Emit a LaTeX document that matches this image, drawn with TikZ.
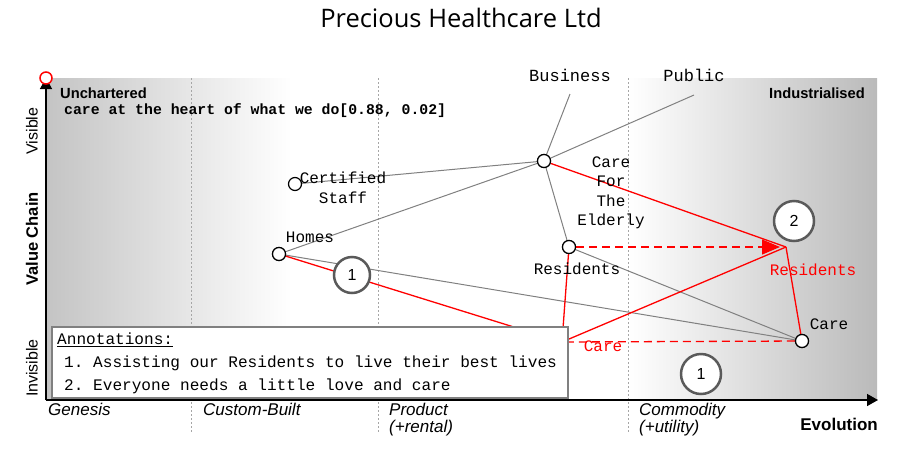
\documentclass[tikz,border=0pt]{standalone}
\usepackage{fontspec}
\setmainfont{Liberation Sans}
\newfontfamily\monof{Liberation Mono}
\newfontfamily\titlef{Open Sans}
\usetikzlibrary{arrows.meta}
\definecolor{linkgray}{HTML}{808080}
\definecolor{bggray}{HTML}{C4C4C4}
\definecolor{annogray}{HTML}{5A5A5A}
\begin{document}
\frenchspacing
\begin{tikzpicture}[x=1pt,y=-1pt,
  comp/.style={circle,draw=black,fill=white,minimum size=13pt,inner sep=0pt,line width=1.2pt},
  lbl/.style={font=\monof\fontsize{16}{19.5}\selectfont,inner sep=0pt,align=center},
  rlbl/.style={lbl,text=red},
  glink/.style={draw=linkgray,line width=1pt},
  rlink/.style={draw=red,line width=1.3pt},
  rdash/.style={draw=red,line width=1.3pt,dash pattern=on 8pt off 5pt},
  anno/.style={circle,draw=annogray,fill=white,line width=2.5pt,minimum size=36pt,inner sep=0pt,font=\fontsize{16}{18}\selectfont},
  stage/.style={font=\itshape\fontsize{17}{17}\selectfont,anchor=north west,inner sep=0pt,align=left},
  axlbl/.style={font=\fontsize{16}{18}\selectfont,rotate=90,inner sep=0pt},
  vdot/.style={draw=gray!70,line width=0.8pt,dash pattern=on 2pt off 2pt}
]
\useasboundingbox (0,0) rectangle (900,472);
% title
\node[font=\titlef\fontsize{25.5}{28}\selectfont] (title) at (461,18) {Precious Healthcare Ltd};
% background
\shade[left color=bggray,right color=white] (46,78) rectangle (292,400);
\shade[left color=white,right color=bggray!95!black] (628,78) rectangle (877,400);
% stage separators
\draw[vdot] (191,78) -- (191,433);
\draw[vdot] (378,78) -- (378,433);
\draw[vdot] (628,78) -- (628,433);
% axes
\coordinate (origin) at (46,400);
\coordinate (ytop) at (46,78);
\coordinate (xend) at (878,400);
\draw[line width=1.5pt,-{Triangle[length=11pt,width=12pt]}] (origin) -- (ytop);
\draw[line width=1.5pt,-{Triangle[length=11pt,width=12pt]}] (origin) -- (xend);
\node[circle,draw=red,fill=white,line width=1.5pt,minimum size=12pt,inner sep=0pt] (anchorpt) at (46,78) {};
% axis labels
\node[font=\bfseries\fontsize{14.7}{16}\selectfont,anchor=west,inner sep=0pt] (unch) at (60,93) {Unchartered};
\node[font=\bfseries\fontsize{14.7}{16}\selectfont,anchor=east,inner sep=0pt] (ind) at (865,93) {Industrialised};
\node[font=\bfseries\fontsize{17}{18}\selectfont,anchor=east,inner sep=0pt] (evo) at (878,424) {Evolution};
\node[axlbl,font=\bfseries\fontsize{16.5}{18}\selectfont] (vc) at (32,239) {Value Chain};
\node[axlbl] (vis) at (32,131) {Visible};
\node[axlbl] (invis) at (32,368) {Invisible};
\node[stage] (gen) at (48,403) {Genesis};
\node[stage] (cust) at (203,403) {Custom-Built};
\node[stage] (prod) at (389,403) {Product\\(+rental)};
\node[stage] (comm) at (639,403) {Commodity\\(+utility)};
% purpose
\node[font=\monof\bfseries\fontsize{14.8}{16}\selectfont,anchor=west,inner sep=0pt] (purpose) at (64,111) {care at the heart of what we do[0.88, 0.02]};
% components
\node[comp] (cfe) at (544,161) {};
\node[comp] (staff) at (295,184) {};
\node[comp] (homes) at (279,254) {};
\node[comp] (res) at (569,247) {};
\node[comp] (care) at (802,341) {};
\coordinate (resev) at (786,247);
\coordinate (careev) at (562,342);
\coordinate (bizend) at (570,94);
\coordinate (pubend) at (694,95);
% gray links
\draw[glink] (cfe) -- (bizend);
\draw[glink] (cfe) -- (pubend);
\draw[glink] (cfe) -- (staff);
\draw[glink] (cfe) -- (homes);
\draw[glink] (cfe) -- (res);
\draw[glink] (homes) -- (care);
\draw[glink] (res) -- (care);
% red links
\draw[rlink] (cfe) -- (resev);
\draw[rlink] (resev) -- (care);
\draw[rlink] (careev) -- (resev);
\draw[rlink] (homes) -- (careev);
\draw[rlink] (res) -- (careev);
\draw[rdash,-{Triangle[length=18pt,width=15pt]},shorten >=6pt] (res) -- (resev);
\draw[rdash] (care) -- (careev);
% redraw components on top
\node[comp] at (cfe) {};
\node[comp] at (homes) {};
\node[comp] at (res) {};
\node[comp] at (care) {};
% labels
\node[lbl,font=\monof\fontsize{17}{19}\selectfont] (biz) at (570,75) {Business};
\node[lbl,font=\monof\fontsize{17}{19}\selectfont] (pub) at (694,75) {Public};
\node[lbl] (cfelbl) at (611,193) {Care\\For\\The\\Elderly};
\node[lbl] (stafflbl) at (343,188) {Certified\\Staff};
\node[lbl] (homeslbl) at (310,237) {Homes};
\node[lbl] (reslbl) at (577,269) {Residents};
\node[lbl] (carelbl) at (829,324) {Care};
\node[rlbl] (resevlbl) at (813,270) {Residents};
\node[rlbl] (careevlbl) at (603,346) {Care};
% annotation markers
\node[anno] (a1) at (352,275) {1};
\node[anno,minimum size=40pt] (a2) at (794,221) {2};
\node[anno,minimum size=40pt] (a1b) at (701,374) {1};
% annotation box
\draw[draw=linkgray,fill=white,line width=1.5pt] (52,327) rectangle (568,398);
\node[font=\monof\fontsize{16.1}{19}\selectfont,anchor=west,inner sep=0pt] (annot) at (57,340) {\underline{Annotations:}};
\node[font=\monof\fontsize{16.1}{19}\selectfont,anchor=west,inner sep=0pt] (ann1) at (64,363) {1. Assisting our Residents to live their best lives};
\node[font=\monof\fontsize{16.1}{19}\selectfont,anchor=west,inner sep=0pt] (ann2) at (64,386) {2. Everyone needs a little love and care};
\end{tikzpicture}
\end{document}
